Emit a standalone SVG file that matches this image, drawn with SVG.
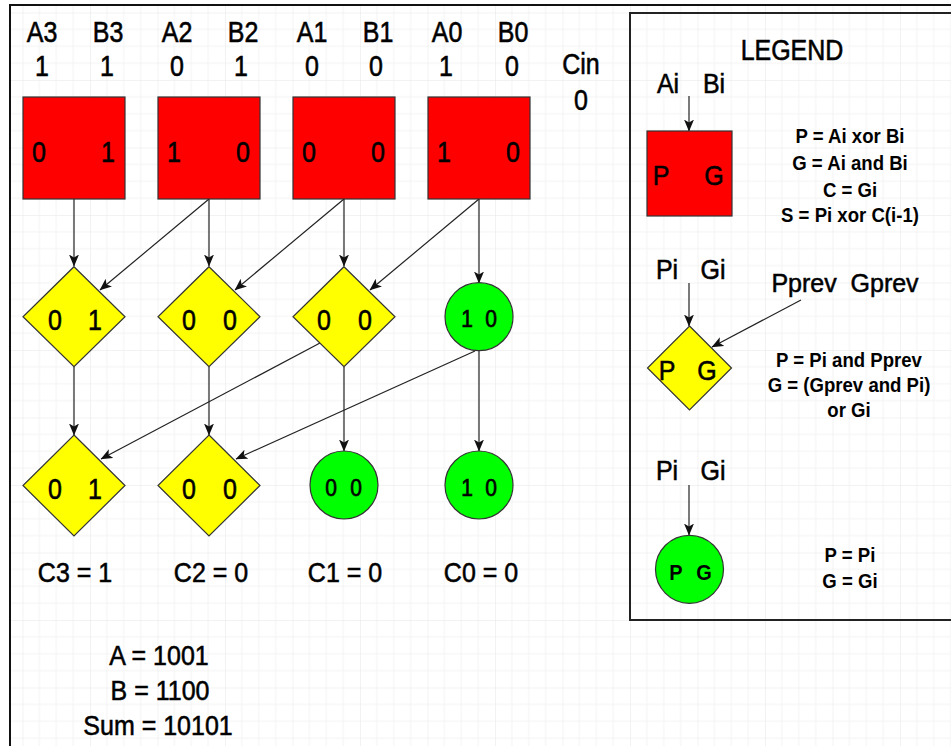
<svg xmlns="http://www.w3.org/2000/svg" width="951" height="746" viewBox="0 0 951 746">
<style>
text{font-family:"Liberation Sans",Arial,sans-serif;fill:#000;text-anchor:middle}
.l{font-size:25px;stroke:#000;stroke-width:0.5}
.d{font-size:25px;stroke:#000;stroke-width:0.5}
.g{font-size:21px;stroke:#000;stroke-width:0.6}
.gb{font-size:20px;font-weight:bold}
.f{font-size:18.6px;font-weight:bold}
.red{fill:#ff0000;stroke:#333;stroke-width:1.2}
.yel{fill:#ffff00;stroke:#333;stroke-width:1.2}
.grn{fill:#00ff00;stroke:#333;stroke-width:1.2}
.c{stroke:#222;stroke-width:1.2;fill:none;marker-end:url(#arr)}
</style>
<defs>
<pattern id="grid" patternUnits="userSpaceOnUse" x="22.5" y="12.5" width="67.5" height="67.5">
<path d="M16.875 0V67.5M33.75 0V67.5M50.625 0V67.5M0 16.875H67.5M0 33.75H67.5M0 50.625H67.5" stroke="#f4f4f4" stroke-width="1"/>
<path d="M0 0V67.5M0 0H67.5" stroke="#e6e6e6" stroke-width="1"/>
</pattern>
<marker id="arr" viewBox="0 0 12 10" refX="11.5" refY="5" markerWidth="12" markerHeight="10" markerUnits="userSpaceOnUse" orient="auto">
<path d="M0,0 L12,5 L0,10 L3,5 Z" fill="#111"/>
</marker>
</defs>
<rect width="951" height="746" fill="#fff"/>
<rect x="10" y="5" width="960" height="760" fill="url(#grid)"/>
<rect id="frame" x="10" y="5" width="960" height="760" fill="none" stroke="#111" stroke-width="2"/>

<g id="inputs">
<text class="l" transform="translate(42,42) scale(1,1.15)">A3</text>
<text class="l" transform="translate(108,42) scale(1,1.15)">B3</text>
<text class="l" transform="translate(177,42) scale(1,1.15)">A2</text>
<text class="l" transform="translate(243,42) scale(1,1.15)">B2</text>
<text class="l" transform="translate(312,42) scale(1,1.15)">A1</text>
<text class="l" transform="translate(378,42) scale(1,1.15)">B1</text>
<text class="l" transform="translate(447,42) scale(1,1.15)">A0</text>
<text class="l" transform="translate(513,42) scale(1,1.15)">B0</text>
<text class="l" transform="translate(42,76) scale(1,1.15)">1</text>
<text class="l" transform="translate(107,76) scale(1,1.15)">1</text>
<text class="l" transform="translate(177,76) scale(1,1.15)">0</text>
<text class="l" transform="translate(241,76) scale(1,1.15)">1</text>
<text class="l" transform="translate(312,76) scale(1,1.15)">0</text>
<text class="l" transform="translate(376,76) scale(1,1.15)">0</text>
<text class="l" transform="translate(446,76) scale(1,1.15)">1</text>
<text class="l" transform="translate(512,76) scale(1,1.15)">0</text>
<text class="l" transform="translate(581,74) scale(1,1.15)">Cin</text>
<text class="l" transform="translate(581,110) scale(1,1.15)">0</text>
</g>

<g id="connectors">
<path class="c" d="M74,199V266"/>
<path class="c" d="M209,199V266"/>
<path class="c" d="M344,199V266"/>
<path class="c" d="M479,199V283"/>
<path class="c" d="M209,199L100,290"/>
<path class="c" d="M344,199L235,290"/>
<path class="c" d="M479,199L370,290"/>
<path class="c" d="M74,367V435"/>
<path class="c" d="M209,367V435"/>
<path class="c" d="M344,367V451"/>
<path class="c" d="M479,350V451"/>
<path class="c" d="M320,343L101,459"/>
<path class="c" d="M475,351L236,459"/>
<path class="c" d="M689,96V131"/>
<path class="c" d="M689,283V326"/>
<path class="c" d="M689,485V535"/>
<path class="c" d="M801,300L712,347"/>
</g>

<g id="pg3"><rect class="red" x="23" y="97" width="102" height="102"/><text class="d" transform="translate(39,162) scale(1,1.15)">0</text><text class="d" transform="translate(108,162) scale(1,1.15)">1</text></g>
<g id="pg2"><rect class="red" x="158" y="97" width="102" height="102"/><text class="d" transform="translate(174,162) scale(1,1.15)">1</text><text class="d" transform="translate(243,162) scale(1,1.15)">0</text></g>
<g id="pg1"><rect class="red" x="293" y="97" width="102" height="102"/><text class="d" transform="translate(309,162) scale(1,1.15)">0</text><text class="d" transform="translate(378,162) scale(1,1.15)">0</text></g>
<g id="pg0"><rect class="red" x="428" y="97" width="102" height="102"/><text class="d" transform="translate(444,162) scale(1,1.15)">1</text><text class="d" transform="translate(513,162) scale(1,1.15)">0</text></g>

<g id="b1c3"><path class="yel" d="M74,266.7L125,316.7L74,366.7L23,316.7Z"/><text class="d" transform="translate(55,330) scale(1,1.15)">0</text><text class="d" transform="translate(95,330) scale(1,1.15)">1</text></g>
<g id="b1c2"><path class="yel" d="M209,266.7L260,316.7L209,366.7L158,316.7Z"/><text class="d" transform="translate(189,330) scale(1,1.15)">0</text><text class="d" transform="translate(230,330) scale(1,1.15)">0</text></g>
<g id="b1c1"><path class="yel" d="M344,266.7L395,316.7L344,366.7L293,316.7Z"/><text class="d" transform="translate(324,330) scale(1,1.15)">0</text><text class="d" transform="translate(365,330) scale(1,1.15)">0</text></g>
<g id="b1c0"><circle class="grn" cx="479" cy="316.7" r="34"/><text class="g" transform="translate(467,327) scale(1,1.12)">1</text><text class="g" transform="translate(491,327) scale(1,1.12)">0</text></g>

<g id="b2c3"><path class="yel" d="M74,435L125,485.5L74,536L23,485.5Z"/><text class="d" transform="translate(55,499) scale(1,1.15)">0</text><text class="d" transform="translate(95,499) scale(1,1.15)">1</text></g>
<g id="b2c2"><path class="yel" d="M209,435L260,485.5L209,536L158,485.5Z"/><text class="d" transform="translate(189,499) scale(1,1.15)">0</text><text class="d" transform="translate(230,499) scale(1,1.15)">0</text></g>
<g id="b2c1"><circle class="grn" cx="344" cy="485" r="34"/><text class="g" transform="translate(331,495.5) scale(1,1.12)">0</text><text class="g" transform="translate(356,495.5) scale(1,1.12)">0</text></g>
<g id="b2c0"><circle class="grn" cx="479" cy="485" r="34"/><text class="g" transform="translate(467,495.5) scale(1,1.12)">1</text><text class="g" transform="translate(491,495.5) scale(1,1.12)">0</text></g>

<g id="carries">
<text class="l" transform="translate(75,582) scale(1,1.12)">C3 = 1</text>
<text class="l" transform="translate(211,582) scale(1,1.12)">C2 = 0</text>
<text class="l" transform="translate(345,582) scale(1,1.12)">C1 = 0</text>
<text class="l" transform="translate(481,582) scale(1,1.12)">C0 = 0</text>
</g>
<g id="result">
<text class="l" transform="translate(159,665) scale(1,1.12)">A = 1001</text>
<text class="l" transform="translate(160,700) scale(1,1.12)">B = 1100</text>
<text class="l" transform="translate(158,735) scale(1,1.12)">Sum = 10101</text>
</g>

<g id="legend">
<rect x="630" y="13" width="340" height="607" fill="none" stroke="#222" stroke-width="2"/>
<text class="l" transform="translate(792,60) scale(1,1.18)">LEGEND</text>
<text class="l" transform="translate(668,93) scale(1,1.12)">Ai</text>
<text class="l" transform="translate(714,93) scale(1,1.12)">Bi</text>
<g id="leg-red"><rect class="red" x="647" y="131" width="85" height="85"/><text class="l" transform="translate(661,185) scale(1,1.12)">P</text><text class="l" transform="translate(714,185) scale(1,1.12)">G</text></g>
<text class="f" transform="translate(850,143) scale(1,1.12)">P = Ai xor Bi</text>
<text class="f" transform="translate(850,170) scale(1,1.12)">G = Ai and Bi</text>
<text class="f" transform="translate(850,196.5) scale(1,1.12)">C = Gi</text>
<text class="f" transform="translate(850,222) scale(1,1.12)">S = Pi xor C(i-1)</text>
<text class="l" transform="translate(667,279) scale(1,1.12)">Pi</text>
<text class="l" transform="translate(713,279) scale(1,1.12)">Gi</text>
<text class="l" transform="translate(845,292) scale(1,1.05)" xml:space="preserve">Pprev  Gprev</text>
<g id="leg-yel"><path class="yel" d="M689.5,326L731.5,368L689.5,410L647.5,368Z"/><text class="l" transform="translate(667,380) scale(1,1.12)">P</text><text class="l" transform="translate(707,380) scale(1,1.12)">G</text></g>
<text class="f" transform="translate(849,366.5) scale(1,1.12)">P = Pi and Pprev</text>
<text class="f" transform="translate(849,391.5) scale(1,1.12)">G = (Gprev and Pi)</text>
<text class="f" transform="translate(849,416.5) scale(1,1.12)">or Gi</text>
<text class="l" transform="translate(667,480) scale(1,1.12)">Pi</text>
<text class="l" transform="translate(713,480) scale(1,1.12)">Gi</text>
<g id="leg-grn"><circle class="grn" cx="689.5" cy="569.3" r="34"/><text class="gb" transform="translate(676,580) scale(1,1.12)">P</text><text class="gb" transform="translate(704,580) scale(1,1.12)">G</text></g>
<text class="f" transform="translate(850,562) scale(1,1.12)">P = Pi</text>
<text class="f" transform="translate(850,588) scale(1,1.12)">G = Gi</text>
</g>
</svg>
